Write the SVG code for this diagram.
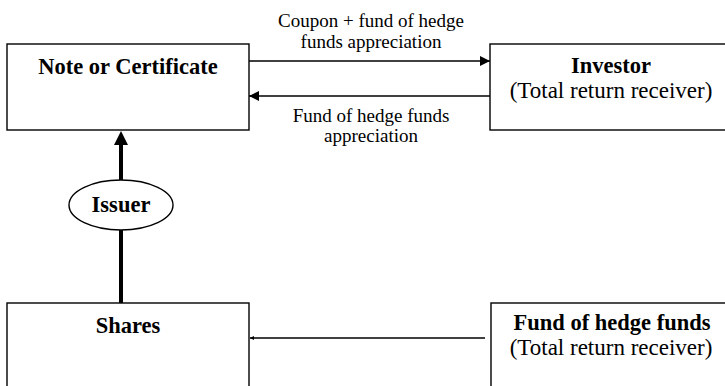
<svg xmlns="http://www.w3.org/2000/svg" width="725" height="386" viewBox="0 0 725 386">
<style>
.box{fill:#fff;stroke:#000;stroke-width:1.4}
.b{font-family:"Liberation Serif",serif;font-weight:bold;font-size:22.5px;text-anchor:middle;fill:#000}
.r{font-family:"Liberation Serif",serif;font-size:23px;text-anchor:middle;fill:#000}
.lbl{font-family:"Liberation Serif",serif;font-size:19px;text-anchor:middle;fill:#000}
.ln{stroke:#000;stroke-width:1.6;fill:none}
</style>
<defs>
<marker id="ah" viewBox="0 0 10 10" refX="10" refY="5" markerWidth="11" markerHeight="10" markerUnits="userSpaceOnUse" orient="auto">
<path d="M0,0 L10,5 L0,10 z" fill="#000"/>
</marker>
<marker id="ahs" viewBox="0 0 10 10" refX="10" refY="5" markerWidth="4" markerHeight="7" markerUnits="userSpaceOnUse" orient="auto">
<path d="M0,0 L10,5 L0,10 z" fill="#000"/>
</marker>
</defs>
<g id="connectors">
<line class="ln" x1="249" y1="61" x2="490" y2="61" marker-end="url(#ah)"/>
<line class="ln" x1="490" y1="96" x2="249" y2="96" marker-end="url(#ah)"/>
<line class="ln" x1="485" y1="338" x2="250" y2="338" marker-end="url(#ahs)"/>
<line x1="121" y1="303" x2="121" y2="144" stroke="#000" stroke-width="4"/>
<path d="M114,145 L121,131 L128,145 z" fill="#000"/>
<text class="lbl" x="371" y="27">Coupon + fund of hedge</text>
<text class="lbl" x="371" y="48">funds appreciation</text>
<text class="lbl" x="371" y="122">Fund of hedge funds</text>
<text class="lbl" x="371" y="142">appreciation</text>
</g>
<g id="note">
<rect class="box" x="7" y="44" width="242" height="86"/>
<text class="b" x="128" y="74">Note or Certificate</text>
</g>
<g id="investor">
<rect class="box" x="490" y="44" width="245" height="86"/>
<text class="b" x="611" y="73">Investor</text>
<text class="r" x="611" y="98">(Total return receiver)</text>
</g>
<g id="issuer">
<ellipse cx="121" cy="205" rx="52" ry="25" fill="#fff" stroke="#000" stroke-width="1.4"/>
<text class="b" x="121" y="212">Issuer</text>
</g>
<g id="shares">
<rect class="box" x="7" y="303" width="242" height="90"/>
<text class="b" x="128" y="333">Shares</text>
</g>
<g id="fund">
<rect class="box" x="491" y="303" width="244" height="90"/>
<text class="b" x="612" y="330">Fund of hedge funds</text>
<text class="r" x="611" y="355">(Total return receiver)</text>
</g>
</svg>
